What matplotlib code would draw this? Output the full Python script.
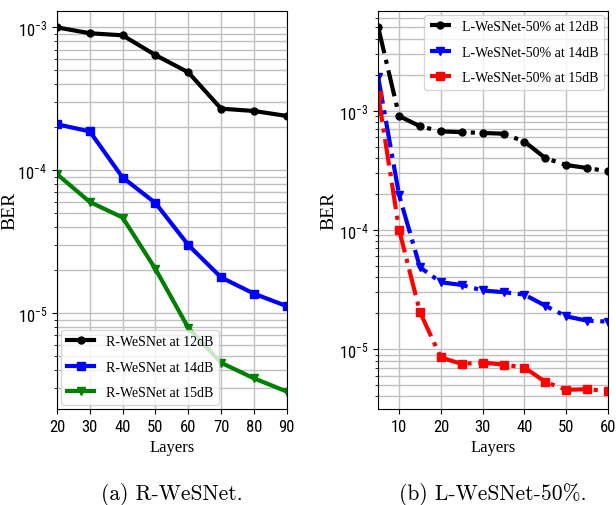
import matplotlib
matplotlib.use("Agg")
import matplotlib.pyplot as plt
import numpy as np

# (a) R-WeSNet
layers_a = [20, 30, 40, 50, 60, 70, 80, 90]
ber_a_12 = [1.0e-3, 9.1e-4, 8.8e-4, 6.4e-4, 4.85e-4, 2.7e-4, 2.6e-4, 2.4e-4]
ber_a_14 = [2.1e-4, 1.87e-4, 8.9e-5, 5.9e-5, 3.0e-5, 1.78e-5, 1.37e-5, 1.12e-5]
ber_a_15 = [9.4e-5, 6.0e-5, 4.67e-5, 2.04e-5, 7.9e-6, 4.5e-6, 3.5e-6, 2.83e-6]

# (b) L-WeSNet-50%
layers_b = [5, 10, 15, 20, 25, 30, 35, 40, 45, 50, 55, 60]
ber_b_12 = [5.0e-3, 9.0e-4, 7.4e-4, 6.7e-4, 6.6e-4, 6.5e-4, 6.4e-4, 5.5e-4, 4.0e-4, 3.5e-4, 3.3e-4, 3.1e-4]
ber_b_14 = [1.9e-3, 1.95e-4, 4.85e-5, 3.63e-5, 3.45e-5, 3.1e-5, 3.0e-5, 2.86e-5, 2.31e-5, 1.88e-5, 1.73e-5, 1.7e-5]
ber_b_15 = [1.34e-3, 1.0e-4, 2.04e-5, 8.5e-6, 7.5e-6, 7.7e-6, 7.4e-6, 7.0e-6, 5.3e-6, 4.55e-6, 4.6e-6, 4.45e-6]

serif = "Liberation Serif"
plt.rcParams["font.family"] = ["Roboto Condensed", "DejaVu Sans"]
plt.rcParams["mathtext.fontset"] = "custom"
plt.rcParams["mathtext.rm"] = "Roboto Condensed"
plt.rcParams["mathtext.it"] = "Roboto Condensed"

fig = plt.figure(figsize=(6.16, 5.06), dpi=100)
ax1 = fig.add_axes([0.0925, 0.19, 0.373, 0.787])
ax2 = fig.add_axes([0.614, 0.19, 0.373, 0.787])

ax1.semilogy(layers_a, ber_a_12, color="black", marker="o", ms=5, lw=3, label="R-WeSNet at 12dB")
ax1.semilogy(layers_a, ber_a_14, color="blue", marker="s", ms=6, lw=3, label="R-WeSNet at 14dB")
ax1.semilogy(layers_a, ber_a_15, color="green", marker="v", ms=6, lw=3, label="R-WeSNet at 15dB")
ax1.set_xlim(20, 90)
ax1.set_ylim(2.14e-6, 1.31e-3)
ax1.set_xticks(range(20, 91, 10))
ax1.legend(loc="lower left", prop={"family": serif, "size": 10},
           labelspacing=0.9, handlelength=2.0, borderaxespad=0.3)
ax1.yaxis.set_label_coords(-0.17, 0.5)

ax2.semilogy(layers_b, ber_b_12, color="black", marker="o", ms=5, lw=3, ls="-.", label="L-WeSNet-50% at 12dB")
ax2.semilogy(layers_b, ber_b_14, color="blue", marker="v", ms=6, lw=3, ls="-.", label="L-WeSNet-50% at 14dB")
ax2.semilogy(layers_b, ber_b_15, color="red", marker="s", ms=6, lw=3, ls="-.", label="L-WeSNet-50% at 15dB")
ax2.set_xlim(5, 60)
ax2.set_ylim(3.15e-6, 6.9e-3)
ax2.set_xticks(range(10, 61, 10))
ax2.legend(loc="upper right", prop={"family": serif, "size": 10},
           labelspacing=0.9, handlelength=1.5, borderaxespad=0.3)
ax2.yaxis.set_label_coords(-0.178, 0.5)

for ax in (ax1, ax2):
    ax.grid(True, which="major", color="#c0c0c0", lw=1)
    ax.grid(True, which="minor", axis="y", color="#c0c0c0", lw=1)
    ax.set_xlabel("Layers", family=serif, fontsize=12)
    ax.set_ylabel("BER", family=serif, fontsize=14)
    ax.tick_params(labelsize=12)

fig.text(0.279, 0.022, "(a) R-WeSNet.", family="cmr10", fontsize=15.5, ha="center", va="center")
fig.text(0.80, 0.022, "(b) L-WeSNet-50%.", family="cmr10", fontsize=15.5, ha="center", va="center")

fig.savefig("out.png", dpi=100)
